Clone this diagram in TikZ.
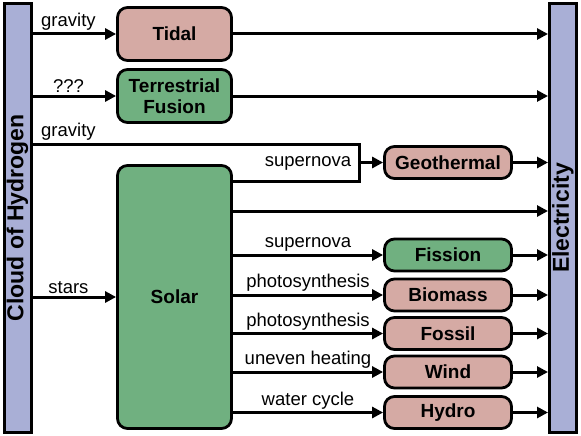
\documentclass[tikz,border=0pt]{standalone}
\usepackage{fontspec}
\setmainfont{Liberation Sans}
\usepackage{graphicx}
\usetikzlibrary{positioning,arrows.meta,calc}
\definecolor{boxpink}{RGB}{213,170,164}
\definecolor{boxgreen}{RGB}{112,176,128}
\definecolor{barblue}{RGB}{169,175,214}

\begin{document}
\begin{tikzpicture}[x=1pt,y=-1pt,
  bar/.style={draw,line width=3pt,fill=barblue,minimum width=27pt,minimum height=428pt,inner sep=0pt,font=\fontsize{23}{25}\selectfont\bfseries},
  src/.style={draw,line width=2.8pt,rounded corners=10pt,minimum width=114pt,minimum height=53pt,inner sep=0pt,align=center,font=\fontsize{19}{21.5}\selectfont\bfseries},
  sink/.style={src,minimum width=127pt,minimum height=32pt},
  flow/.style={line width=3pt,-{Triangle[length=11pt,width=11pt]}},
  lbl/.style={font=\fontsize{18.5}{20}\selectfont,inner sep=2pt}]
\useasboundingbox (0,0) rectangle (581,436);

% Bars
\node[bar] (cloud) at (17.5,218) {\rotatebox{90}{Cloud of Hydrogen}};
\node[bar] (elec) at (563,218) {\rotatebox{90}{Electricity}};

% Sources
\node[src,fill=boxpink] (tidal) at (174.5,34) {Tidal};
\node[src,fill=boxgreen] (fusion) at (174.5,96) {Terrestrial\\Fusion};
\node[src,fill=boxgreen,minimum height=263pt] (solar) at (174.5,297) {Solar};

% Outputs of solar
\node[sink,fill=boxpink] (geo) at (448,162.5) {Geothermal};
\node[sink,fill=boxgreen] (fission) at (448,255) {Fission};
\node[sink,fill=boxpink] (biomass) at (448,295) {Biomass};
\node[sink,fill=boxpink] (fossil) at (448,333.5) {Fossil};
\node[sink,fill=boxpink] (wind) at (448,372) {Wind};
\node[sink,fill=boxpink] (hydro) at (448,412.5) {Hydro};

% From the cloud
\draw[flow] (cloud.east |- tidal) -- node[lbl,above,pos=0.43] {gravity} (tidal);
\draw[flow] (cloud.east |- fusion) -- node[lbl,above,pos=0.43] {???} (fusion);
\draw[flow] (cloud.east |- solar) -- node[lbl,above,pos=0.43] {stars} (solar);
\draw[flow] (tidal) -- (tidal -| elec.west);
\draw[flow] (fusion) -- (fusion -| elec.west);

% Geothermal loop
\coordinate (loopTR) at (359,144);
\coordinate (loopBR) at (359,181);
\draw[line width=3pt] (cloud.east |- loopTR) -- node[lbl,above,pos=0.11] {gravity} (loopTR) -- (loopBR) -- (loopBR -| solar.east);
\node[lbl] (snlabel) at (308,163) {supernova};
\draw[flow] (geo -| loopTR) -- (geo);
\draw[flow] (geo) -- (geo -| elec.west);

% Solar straight to electricity
\coordinate (direct) at (300,211);
\draw[flow] (direct -| solar.east) -- (direct -| elec.west);

\foreach \n/\t in {fission/supernova,biomass/photosynthesis,fossil/photosynthesis,wind/uneven heating,hydro/water cycle}{
  \draw[flow] (\n -| solar.east) -- node[lbl,above] {\t} (\n);
  \draw[flow] (\n) -- (\n -| elec.west);
}
\end{tikzpicture}
\end{document}
